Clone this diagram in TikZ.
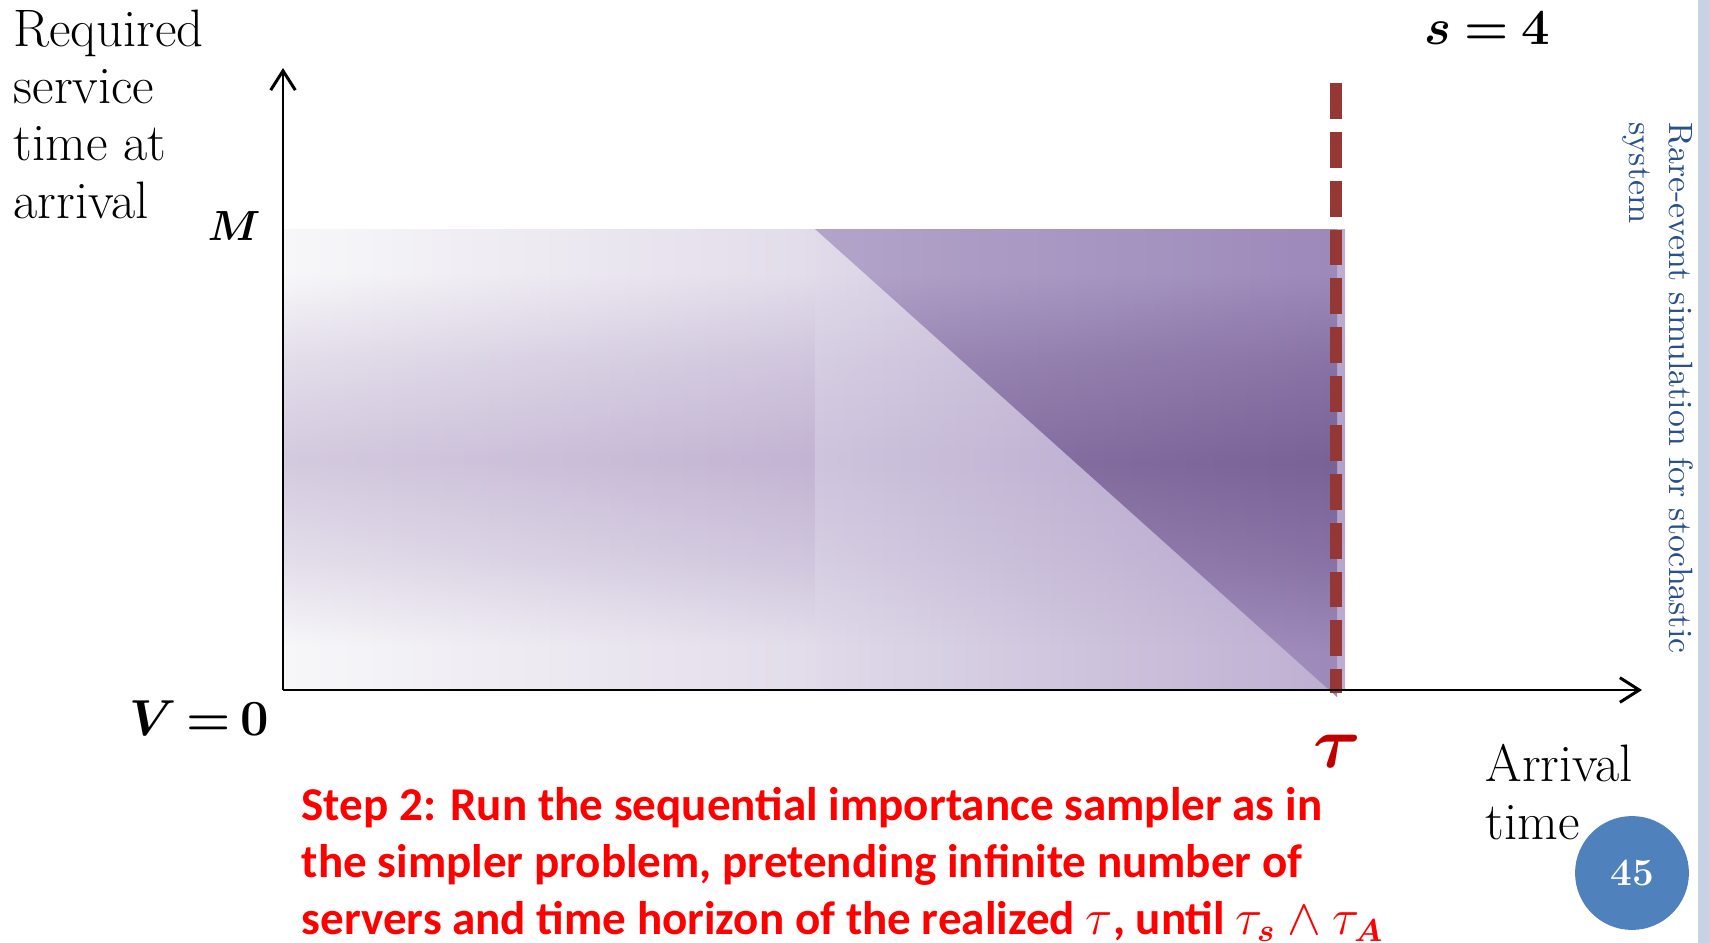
\documentclass[tikz,border=0pt]{standalone}
\usepackage{amsmath,amssymb}
\usepackage{fontspec}
\newfontfamily\stepfont{Carlito}
\usetikzlibrary{arrows.meta,fadings}

\definecolor{tauline}{RGB}{149,55,53}
\definecolor{taured}{RGB}{192,0,0}
\definecolor{stepred}{RGB}{255,0,0}
\definecolor{pagenum}{RGB}{79,129,189}
\definecolor{sidenote}{RGB}{40,80,140}
\definecolor{sidebar}{RGB}{200,210,229}
% light block left of the triangle
\definecolor{leftTop}{RGB}{247,247,249}
\definecolor{leftTopR}{RGB}{226,220,234}
\definecolor{leftMid}{RGB}{212,202,223}
\definecolor{leftMidR}{RGB}{194,180,211}
% light block under the triangle
\definecolor{rightTop}{RGB}{224,218,233}
\definecolor{rightTopR}{RGB}{189,174,209}
\definecolor{rightMid}{RGB}{206,196,221}
\definecolor{rightMidR}{RGB}{178,161,201}
% dark triangle
\definecolor{triTop}{RGB}{178,164,201}
\definecolor{triTopR}{RGB}{157,137,186}
\definecolor{triMid}{RGB}{140,118,167}
\definecolor{triMidR}{RGB}{121,98,150}

% dark in the middle, clear at top and bottom (path box = 25bp..75bp)
\pgfdeclareverticalshading{bandshade}{100bp}{color(0bp)=(black); color(30bp)=(black);
  color(39bp)=(white!55!black); color(50bp)=(white); color(61bp)=(white!55!black);
  color(70bp)=(black); color(100bp)=(black)}
\tikzfading[name=midband, shading=bandshade]

\tikzset{
  axisline/.style={line width=0.85pt, -{Straight Barb[length=5.5pt,width=7pt]}},
  lbl/.style={inner sep=0pt, align=left, font=\fontsize{15}{16.3}\selectfont},
  mathlbl/.style={inner sep=0pt, font=\fontsize{13.5}{15}\selectfont},
}

\begin{document}
\begin{tikzpicture}[x=0.1mm, y=-0.1mm]
  \useasboundingbox (0,0) rectangle (1709,943);

  \coordinate (O) at (283,690);
  \coordinate (xend) at (1642,690);
  \coordinate (yend) at (283,68);
  \coordinate (tautop) at (1336,83);
  \coordinate (taubot) at (1336,693);

  % shaded region
  \shade[left color=leftTop, right color=leftTopR] (283,229) rectangle (815,690);
  \shade[left color=leftMid, right color=leftMidR, path fading=midband] (283,229) rectangle (815,690);
  \shade[left color=rightTop, right color=rightTopR] (815,229) rectangle (1345,690);
  \shade[left color=rightMid, right color=rightMidR, path fading=midband] (815,229) rectangle (1345,690);
  \begin{scope}
    \clip (815,229) -- (1337,229) -- (1337,697) -- cycle;
    \shade[left color=triTop, right color=triTopR] (815,229) rectangle (1337,697);
    \shade[left color=triMid, right color=triMidR, path fading=midband] (815,229) rectangle (1337,697);
  \end{scope}

  \draw[tauline, line width=3.5pt, dash pattern=on 10.2pt off 3.7pt] (tautop) -- (taubot);

  \draw[axisline] (O) -- (xend);
  \draw[axisline] (O) -- (yend);

  \node[lbl, anchor=north west] (ylab) at (13,9) {Required\\service\\time at\\arrival};
  \node[lbl, anchor=north west] (xlab) at (1485,744) {Arrival\\time};
  \node[mathlbl, font=\fontsize{12.5}{14}\selectfont] (mlab) at (234,226) {$\boldsymbol{M}$};
  \node[mathlbl] (vlab) at (199,718) {$\boldsymbol{V\mskip-2mu=\mskip-2mu0}$};
  \node[mathlbl] (slab) at (1487,28) {$\boldsymbol{s\mskip-1mu=\mskip-1mu4}$};
  \node[inner sep=0pt, text=taured, font=\fontsize{20}{20}\selectfont] (taulab) at (1337,751) {$\boldsymbol{\tau}$};

  \node[inner sep=0pt, anchor=base west, align=left, text=stepred,
        font=\stepfont\bfseries\fontsize{13.4}{16.2}\selectfont] (step) at (301,934)
    {Step 2: Run the sequential importance sampler as in\\
     the simpler problem, pretending infinite number of\\
     servers and time horizon of the realized $\tau$, until $\tau_{\boldsymbol{s}}\wedge\tau_{\boldsymbol{A}}$};

  \fill[sidebar] (1698,0) rectangle (1709,943);
  \node[rotate=-90, anchor=north west, inner sep=0pt, align=left, text=sidenote,
        font=\fontsize{9.6}{11.5}\selectfont] (side) at (1694,122)
    {Rare-event simulation for stochastic\\system};

  \node[circle, fill=pagenum, minimum size=32.4pt, inner sep=0pt, text=white,
        font=\bfseries\fontsize{11}{11}\selectfont] (page) at (1632,873) {45};
\end{tikzpicture}
\end{document}
